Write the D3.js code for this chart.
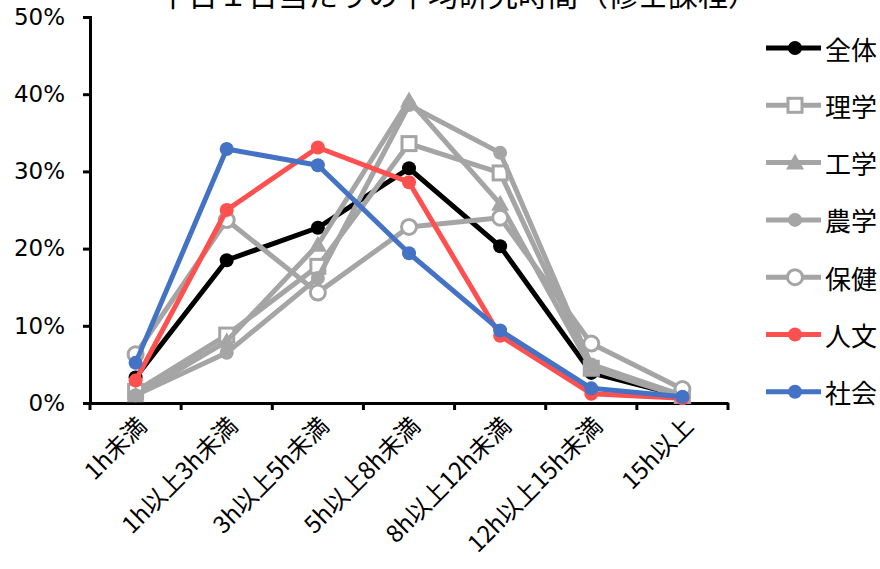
<!DOCTYPE html>
<html><head><meta charset="utf-8">
<script src="https://cdn.jsdelivr.net/npm/d3@7"></script>
<style>
body{margin:0;background:#fff;}
text{font-family:"Noto Sans CJK JP","DejaVu Sans",sans-serif;fill:#000;}
</style></head>
<body>
<svg id="c" width="880" height="569"></svg>
<script>
const title = "平日１日当たりの平均研究時間（修士課程）";
const categories = ["1h未満","1h以上3h未満","3h以上5h未満","5h以上8h未満","8h以上12h未満","12h以上15h未満","15h以上"];
const yTicks = [0,10,20,30,40,50];
const seriesNames = ["全体","理学","工学","農学","保健","人文","社会"];
const v全体 = [3.3, 18.5, 22.7, 30.4, 20.3, 3.9, 0.9];
const v理学 = [1.5, 8.8, 17.7, 33.6, 29.8, 4.5, 1.0];
const v工学 = [1.0, 8.0, 20.5, 39.2, 25.8, 4.5, 0.8];
const v農学 = [1.0, 6.5, 16.2, 38.6, 32.4, 5.0, 1.0];
const v保健 = [6.3, 23.7, 14.3, 22.8, 24.0, 7.7, 1.8];
const v人文 = [2.9, 25.0, 33.1, 28.6, 8.7, 1.2, 0.6];
const v社会 = [5.2, 32.9, 30.8, 19.4, 9.4, 1.9, 0.8];
const seriesValues = [v全体, v理学, v工学, v農学, v保健, v人文, v社会];
const colors = ["#000000","#A5A5A5","#A5A5A5","#A5A5A5","#A5A5A5","#FF5050","#4472C4"];
const markers = ["circle","square","triangle","circle","open","circle","circle"];

const svg = d3.select("#c");
const L=90, R=728, T=17, B=403;
const x = d3.scaleBand().domain(categories).range([L,R]);
const y = d3.scaleLinear().domain([0,50]).range([B,T]);

svg.append("text").attr("x",458).attr("y",6).attr("text-anchor","middle")
  .style("font-size","30px").text(title);

// y axis
const ya = svg.append("g").attr("transform",`translate(${L},0)`)
  .call(d3.axisLeft(y).tickValues(yTicks).tickSize(7).tickFormat(d=>d+"%"));
ya.select(".domain").attr("stroke","#000").attr("stroke-width",3);
ya.selectAll(".tick line").attr("stroke","#000").attr("stroke-width",3);
ya.selectAll(".tick text").attr("x",-25).style("font-size","23px").style("font-family","'DejaVu Sans',sans-serif");

// x axis
const xa = svg.append("g").attr("transform",`translate(0,${B})`)
  .call(d3.axisBottom(x).tickSize(0).tickFormat(""));
xa.select(".domain").attr("stroke","#000").attr("stroke-width",3);
const tickPos = categories.map(c=>x(c)).concat([R]);
svg.append("g").selectAll("line").data(tickPos).join("line")
  .attr("x1",d=>d).attr("x2",d=>d).attr("y1",B).attr("y2",B+7)
  .attr("stroke","#000").attr("stroke-width",3);
svg.append("g").selectAll("text").data(categories).join("text")
  .attr("transform",d=>`translate(${x(d)+x.bandwidth()/2+8},${B+20}) rotate(-45)`)
  .attr("text-anchor","end").attr("dominant-baseline","middle")
  .style("font-size","24px").text(d=>d);

function drawMarker(g, type, color, cx, cy){
  if(type==="circle"){
    g.append("circle").attr("cx",cx).attr("cy",cy).attr("r",7).attr("fill",color);
  } else if(type==="open"){
    g.append("circle").attr("cx",cx).attr("cy",cy).attr("r",7.5).attr("fill","#fff").attr("stroke",color).attr("stroke-width",3);
  } else if(type==="square"){
    g.append("rect").attr("x",cx-7).attr("y",cy-7).attr("width",14).attr("height",14).attr("fill","#fff").attr("stroke",color).attr("stroke-width",3);
  } else if(type==="triangle"){
    g.append("path").attr("d",`M${cx},${cy-9}L${cx+9},${cy+7}L${cx-9},${cy+7}Z`).attr("fill",color);
  }
}

const line = d3.line().x((d,i)=>x(categories[i])+x.bandwidth()/2).y(d=>y(d));
seriesNames.forEach((name,si)=>{
  const g = svg.append("g");
  g.append("path").attr("d",line(seriesValues[si])).attr("fill","none")
    .attr("stroke",colors[si]).attr("stroke-width",5).attr("stroke-linejoin","round");
  seriesValues[si].forEach((v,i)=>drawMarker(g, markers[si], colors[si], x(categories[i])+x.bandwidth()/2, y(v)));
});

// legend
seriesNames.forEach((name,si)=>{
  const ly = 48 + si*57.3;
  const g = svg.append("g");
  g.append("line").attr("x1",766).attr("x2",821).attr("y1",ly).attr("y2",ly)
    .attr("stroke",colors[si]).attr("stroke-width",5);
  drawMarker(g, markers[si], colors[si], 795, ly);
  g.append("text").attr("x",825).attr("y",ly).attr("dominant-baseline","central")
    .style("font-size","26px").text(name);
});
</script>
</body></html>
